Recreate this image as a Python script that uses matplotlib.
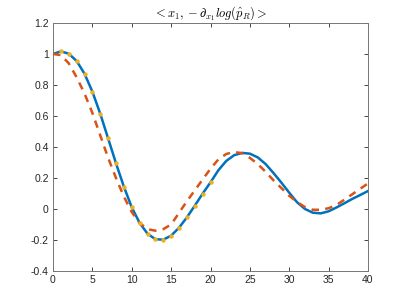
import matplotlib
matplotlib.use("Agg")
import matplotlib.pyplot as plt
import numpy as np

x_blue = np.arange(0, 41)
y_blue = [1.0, 1.017, 1.002, 0.955, 0.873, 0.757, 0.615, 0.455, 0.295, 0.144,
          0.011, -0.090, -0.159, -0.195, -0.198, -0.172, -0.121, -0.054, 0.021, 0.099,
          0.172, 0.25, 0.31, 0.347, 0.362, 0.357, 0.333, 0.29, 0.232, 0.17,
          0.105, 0.043, 0.0, -0.024, -0.028, -0.015, 0.01, 0.037, 0.065, 0.09, 0.116]

x_red = np.arange(0, 41)
y_red = [1.0, 0.993, 0.94, 0.85, 0.745, 0.62, 0.475, 0.33, 0.20, 0.08,
         -0.02, -0.09, -0.13, -0.14, -0.13, -0.10, -0.025, 0.05, 0.12, 0.19,
         0.26, 0.32, 0.355, 0.368, 0.36, 0.33, 0.29, 0.24, 0.185, 0.135,
         0.085, 0.045, 0.012, -0.005, -0.005, 0.005, 0.026, 0.06, 0.095, 0.13, 0.165]

x_dots = np.arange(1, 21)
y_dots = [1.017, 1.002, 0.955, 0.873, 0.757, 0.615, 0.455, 0.295, 0.144, 0.011,
          -0.090, -0.159, -0.195, -0.198, -0.172, -0.121, -0.054, 0.021, 0.099, 0.172]

xticks = [0, 5, 10, 15, 20, 25, 30, 35, 40]
yticks = [-0.4, -0.2, 0, 0.2, 0.4, 0.6, 0.8, 1, 1.2]
ytick_labels = ["-0.4", "-0.2", "0", "0.2", "0.4", "0.6", "0.8", "1", "1.2"]

plt.rcParams['font.family'] = ['Liberation Sans', 'DejaVu Sans']
plt.rcParams['mathtext.fontset'] = 'cm'

fig = plt.figure(figsize=(4.07, 3.05), dpi=100)
ax = fig.add_axes([53/407, 1 - 271/305, (368 - 53)/407, (271 - 23)/305])

ax.plot(x_blue, y_blue, color='#0072BD', lw=1.8, zorder=2)
ax.plot(x_red, y_red, color='#D95319', lw=1.8, ls=(0, (3, 2.5)), zorder=3)
ax.plot(x_dots, y_dots, ls='none', marker='o', ms=3.2, color='#EDB120',
        markeredgewidth=0, zorder=4)

ax.set_xlim(0, 40)
ax.set_ylim(-0.4, 1.2)
ax.set_xticks(xticks)
ax.set_xticklabels([str(t) for t in xticks])
ax.set_yticks(yticks)
ax.set_yticklabels(ytick_labels)
ax.tick_params(direction='in', length=3, width=0.6, colors='#262626',
               labelsize=7.5, top=True, right=True, pad=3)
for s in ax.spines.values():
    s.set_color('#777777')
    s.set_linewidth(0.7)

ax.set_title(r'$< x_1, -\partial_{x_1} log(\hat{p}_R) >$', fontsize=9, pad=4)

fig.savefig('out.png', dpi=100)
